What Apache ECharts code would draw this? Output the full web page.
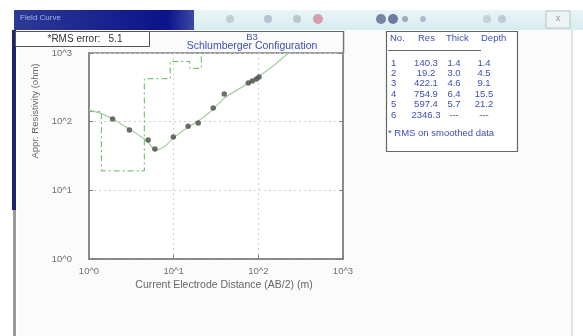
<!DOCTYPE html>
<html>
<head>
<meta charset="utf-8">
<script src="https://cdn.jsdelivr.net/npm/echarts@6/dist/echarts.min.js"></script>
<style>
html,body{margin:0;padding:0;background:#ffffff;}
#c{width:583px;height:336px;}
</style>
</head>
<body>
<div id="c"></div>
<script>
// ---- data ----
const xTickLabels = ['10^0', '10^1', '10^2', '10^3'];
const yTickLabels = ['10^0', '10^1', '10^2', '10^3'];

// observed apparent resistivity (field data)
const obsAB  = [1.9, 3.0, 5.0, 6.0, 9.9, 14.8, 19.5, 29.3, 39.6, 76, 85, 95, 102];
const obsRho = [109, 75.5, 54, 40, 59.7, 86, 95.5, 158, 252, 365, 390, 417, 446];

// calculated (model response) curve
const calcAB  = [1.0, 1.35, 1.92, 2.97, 4.0, 5.0, 6.04, 7.9, 9.9, 14.8, 19.5, 29.3, 39.6, 80, 139, 226];
const calcRho = [147, 133, 109, 78, 62, 50.5, 38.6, 44, 57.7, 83, 102, 152, 220, 377, 603, 1000];

// layered model
const layerNo    = [1, 2, 3, 4, 5, 6];
const layerRes   = [140.3, 19.2, 422.1, 754.9, 597.4, 2346.3];
const layerThick = [1.4, 3.0, 4.6, 6.4, 5.7];
const layerDepth = [1.4, 4.5, 9.1, 15.5, 21.2];

const rmsError = 5.1;
const chartTitle = 'B3';
const chartSubtitle = 'Schlumberger Configuration';

// ---- build series data ----
const obsData = obsAB.map((x, i) => [x, obsRho[i]]);
const calcData = calcAB.map((x, i) => [x, calcRho[i]]);
const stepData = [];
let prevX = 1;
for (let i = 0; i < layerRes.length; i++) {
  const endX = i < layerDepth.length ? layerDepth[i] : 1000;
  stepData.push([prevX, layerRes[i]]);
  stepData.push([endX, layerRes[i]]);
  prevX = endX;
}

const FONT = '"Liberation Sans", Arial, sans-serif';
const BLUE = '#3c4fb4';
const AXC = '#808080';

function lg(v){ return Math.round(Math.log10(v)); }

// ---- graphic elements (window chrome, boxes, table, labels) ----
const g = [];
g.push({type:'rect', shape:{x:17,y:30,width:555,height:306}, style:{fill:'#fbfbfb'}, z:-10, silent:true});
g.push({type:'rect', shape:{x:14,y:10,width:180,height:20},
  style:{fill:new echarts.graphic.LinearGradient(0,0,1,0,[{offset:0,color:'#2c3a96'},{offset:0.85,color:'#0c128a'},{offset:1,color:'#3a4aa8'}])}, z:-5});
g.push({type:'text', style:{text:'Field Curve', x:20, y:18, fill:'#aab4e6', font:'8px '+FONT, textVerticalAlign:'middle'}, z:-4});
g.push({type:'rect', shape:{x:194,y:10,width:389,height:20},
  style:{fill:new echarts.graphic.LinearGradient(0,0,0,1,[{offset:0,color:'#e9f5f7'},{offset:1,color:'#d8ecef'}])}, z:-5});
const icons = [[230,'#b9c4c8',4],[268,'#a9b8c4',4],[297,'#b4bcc2',4],[318,'#d28a98',5],[381,'#5a6a94',5],[393,'#4e5e8c',5],[405,'#8c9ab4',3],[423,'#a0aec4',3],[487,'#bcc8d2',4],[502,'#b4c0cc',4]];
icons.forEach(ic => g.push({type:'circle', shape:{cx:ic[0], cy:19, r:ic[2]}, style:{fill:ic[1], opacity:0.8}, z:-4}));
g.push({type:'rect', shape:{x:546,y:11,width:24,height:17}, style:{fill:'#eef4f5', stroke:'#b8c4c8', lineWidth:1}, z:-4});
g.push({type:'text', style:{text:'x', x:558, y:19, fill:'#8a9aa0', font:'9px '+FONT, textAlign:'center', textVerticalAlign:'middle'}, z:-3});
g.push({type:'rect', shape:{x:12,y:30,width:4,height:180}, style:{fill:'#1c2470'}, z:-4});
g.push({type:'rect', shape:{x:13,y:210,width:3,height:126}, style:{fill:'#9a9a9a'}, z:-4});
g.push({type:'line', shape:{x1:572,y1:30,x2:572,y2:336}, style:{stroke:'#c8c8c8', lineWidth:1}, z:-4});
g.push({type:'line', shape:{x1:15,y1:31.5,x2:344,y2:31.5}, style:{stroke:'#666', lineWidth:1}});
g.push({type:'line', shape:{x1:343.5,y1:31,x2:343.5,y2:53}, style:{stroke:'#777', lineWidth:1.5}});
g.push({type:'rect', shape:{x:15.5,y:31.5,width:134,height:15}, style:{fill:'#ffffff', stroke:'#555', lineWidth:1}});
g.push({type:'text', style:{text:'*RMS error:   ' + rmsError.toFixed(1), x:85, y:39.5, fill:'#333', font:'10px '+FONT, textAlign:'center', textVerticalAlign:'middle'}});
g.push({type:'text', style:{text:chartTitle, x:252, y:37, fill:BLUE, font:'9.5px '+FONT, textAlign:'center', textVerticalAlign:'middle'}});
g.push({type:'text', style:{text:chartSubtitle, x:252, y:46.5, fill:BLUE, font:'10.5px '+FONT, textAlign:'center', textVerticalAlign:'middle'}});
g.push({type:'text', x:35, y:111, rotation:Math.PI/2,
  style:{text:'Appr. Resistivity (ohm)', x:0, y:0, fill:'#666', font:'9.5px '+FONT, textAlign:'center', textVerticalAlign:'middle'}});
g.push({type:'text', style:{text:'Current Electrode Distance (AB/2) (m)', x:224, y:285, fill:'#666', font:'10.5px '+FONT, textAlign:'center', textVerticalAlign:'middle'}});
g.push({type:'rect', shape:{x:386.5,y:31.5,width:131,height:120}, style:{fill:'#ffffff', stroke:'#666', lineWidth:1.2}});
const TF = '9.5px ' + FONT;
const hdrY = 38;
[['No.',390],['Res',418],['Thick',446],['Depth',481]].forEach(h =>
  g.push({type:'text', style:{text:h[0], x:h[1], y:hdrY, fill:BLUE, font:TF, textVerticalAlign:'middle'}}));
g.push({type:'line', shape:{x1:388,y1:50.5,x2:481,y2:50.5}, style:{stroke:'#666', lineWidth:1}});
layerNo.forEach((n, i) => {
  const y = 63 + i * 10.4;
  const th = i < layerThick.length ? layerThick[i].toFixed(1) : '---';
  const dp = i < layerDepth.length ? layerDepth[i].toFixed(1) : '---';
  g.push({type:'text', style:{text:String(n), x:391, y:y, fill:BLUE, font:TF, textVerticalAlign:'middle'}});
  g.push({type:'text', style:{text:layerRes[i].toFixed(1), x:426, y:y, fill:BLUE, font:TF, textAlign:'center', textVerticalAlign:'middle'}});
  g.push({type:'text', style:{text:th, x:454, y:y, fill:BLUE, font:TF, textAlign:'center', textVerticalAlign:'middle'}});
  g.push({type:'text', style:{text:dp, x:484, y:y, fill:BLUE, font:TF, textAlign:'center', textVerticalAlign:'middle'}});
});
g.push({type:'text', style:{text:'* RMS on smoothed data', x:388, y:133, fill:BLUE, font:TF, textVerticalAlign:'middle'}});

const chart = echarts.init(document.getElementById('c'), null, {renderer:'canvas'});
chart.setOption({
  animation:false,
  backgroundColor:'transparent',
  grid:{left:89, top:53, width:254, height:206, show:true, borderColor:AXC, borderWidth:1.5, backgroundColor:'#ffffff'},
  xAxis:{type:'log', logBase:10, min:1, max:1000,
    axisLine:{show:true, lineStyle:{color:AXC, width:1.5}},
    axisTick:{show:true, inside:true, length:4, lineStyle:{color:AXC}},
    axisLabel:{color:'#707070', fontSize:9.5, fontFamily:FONT, margin:7, formatter:v => xTickLabels[lg(v)]},
    splitLine:{show:true, lineStyle:{color:'#d0d0d0', type:[2,3], width:1}}},
  yAxis:[{type:'log', logBase:10, min:1, max:1000,
    axisLine:{show:true, lineStyle:{color:AXC, width:1.5}},
    axisTick:{show:true, inside:true, length:4, lineStyle:{color:AXC}},
    axisLabel:{color:'#707070', fontSize:9.5, fontFamily:FONT, margin:17, formatter:v => yTickLabels[lg(v)]},
    splitLine:{show:true, lineStyle:{color:'#d0d0d0', type:[2,3], width:1}}},
    {type:'log', logBase:10, min:1, max:1000, position:'right',
    axisLine:{show:true, lineStyle:{color:AXC, width:1.5}},
    axisTick:{show:true, inside:true, length:4, lineStyle:{color:AXC}},
    axisLabel:{show:false}, splitLine:{show:false}}],
  series:[
    {type:'line', name:'model', data:stepData, showSymbol:false, clip:true,
      lineStyle:{color:'#5cb85c', width:1, type:[6,3,2,3]}, z:2},
    {type:'line', name:'calc', data:calcData, showSymbol:false, smooth:0.3, clip:true,
      lineStyle:{color:'#a4cfa0', width:1.2}, z:3},
    {type:'scatter', name:'obs', data:obsData, symbol:'circle', symbolSize:5.5,
      itemStyle:{color:'#4a4a4a'}, z:4}
  ],
  graphic:{elements:g}
});
</script>
</body>
</html>
